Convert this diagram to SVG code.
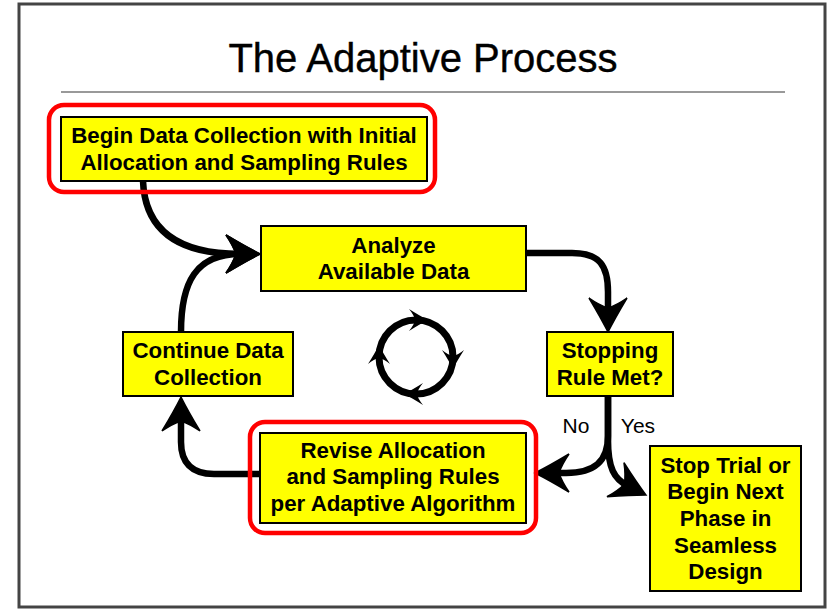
<svg xmlns="http://www.w3.org/2000/svg" xmlns:xlink="http://www.w3.org/1999/xlink" width="831" height="610" viewBox="0 0 831 610">
<defs>
<style>
.box{fill:#ffff00;stroke:#000;stroke-width:2}
.hl{fill:none;stroke:#ff0000;stroke-width:4.5}
.t{font-family:"Liberation Sans",Arial,sans-serif;font-weight:bold;font-size:22.3px;fill:#000;text-anchor:middle}
.lbl{font-family:"Liberation Sans",Arial,sans-serif;font-size:21px;fill:#000;text-anchor:middle}
.c{fill:none;stroke:#000;stroke-width:6.5;marker-end:url(#ah)}
</style>
<marker id="ah" markerUnits="userSpaceOnUse" markerWidth="80" markerHeight="80" viewBox="-40 -40 80 80" refX="0" refY="0" orient="auto" overflow="visible">
<path d="M20,0 Q6,-7 -14,-19 Q-7,-9 -4,0 Q-7,9 -14,19 Q6,7 20,0 Z" fill="#000" stroke="#000" stroke-width="1.5" stroke-linejoin="miter"/>
</marker>
<path id="sh" d="M10,0 Q2,-4 -9,-11 Q-4,-5 -3,0 Q-4,5 -9,11 Q2,4 10,0 Z" fill="#000"/>
</defs>
<rect x="0" y="0" width="831" height="610" fill="#fff"/>
<rect x="19" y="4" width="806" height="603" fill="#fff" stroke="#444" stroke-width="3"/>
<text x="423" y="72" font-family="'Liberation Sans',Arial,sans-serif" font-size="40" text-anchor="middle" fill="#000" stroke="#000" stroke-width="0.4">The Adaptive Process</text>
<line x1="61" y1="92" x2="785" y2="92" stroke="#999" stroke-width="2"/>

<g id="connectors">
<path class="c" d="M143,181 C145,232 180,254 240,254"/>
<path class="c" d="M181,332 C181,282 196,254 240,254"/>
<path class="c" d="M526,253 L572,253 C600,253 608,266 608,292 L608,312"/>
<path class="c" d="M608,396 L608,436 C608,462 594,473 566,473 L555,473"/>
<path class="c" d="M608,396 L608,440 C608,468 614,479 628,486"/>
<path class="c" d="M260,474 L214,474 C191,474 181,462 181,442 L181,417"/>
</g>

<g id="cycle">
<circle cx="416" cy="357" r="37" fill="none" stroke="#000" stroke-width="7"/>
<use xlink:href="#sh" transform="translate(418,320)"/>
<use xlink:href="#sh" transform="translate(453,359) rotate(90)"/>
<use xlink:href="#sh" transform="translate(414,394) rotate(180)"/>
<use xlink:href="#sh" transform="translate(379,355) rotate(-90)"/>
</g>

<g id="begin">
<rect class="hl" x="49" y="105" width="386" height="87" rx="15"/>
<rect class="box" x="61" y="117" width="366" height="64"/>
<text class="t" x="244" y="143">Begin Data Collection with Initial</text>
<text class="t" x="244" y="170">Allocation and Sampling Rules</text>
</g>

<g id="analyze">
<rect class="box" x="261" y="226" width="265" height="65"/>
<text class="t" x="393.5" y="253">Analyze</text>
<text class="t" x="393.5" y="279">Available Data</text>
</g>

<g id="stopping">
<rect class="box" x="547" y="332" width="126" height="64"/>
<text class="t" x="610" y="358">Stopping</text>
<text class="t" x="610" y="385">Rule Met?</text>
</g>

<g id="continue">
<rect class="box" x="123" y="332" width="170" height="64"/>
<text class="t" x="208" y="358">Continue Data</text>
<text class="t" x="208" y="385">Collection</text>
</g>

<g id="revise">
<rect class="hl" x="250" y="422" width="286" height="111" rx="15"/>
<rect class="box" x="260" y="433" width="266" height="90"/>
<text class="t" x="393" y="458">Revise Allocation</text>
<text class="t" x="393" y="484">and Sampling Rules</text>
<text class="t" x="393" y="511">per Adaptive Algorithm</text>
</g>

<g id="stoptrial">
<rect class="box" x="650" y="446" width="151" height="145"/>
<text class="t" x="725.5" y="473">Stop Trial or</text>
<text class="t" x="725.5" y="499">Begin Next</text>
<text class="t" x="725.5" y="526">Phase in</text>
<text class="t" x="725.5" y="553">Seamless</text>
<text class="t" x="725.5" y="579">Design</text>
</g>

<g id="labels">
<text class="lbl" x="576" y="433">No</text>
<text class="lbl" x="638" y="433">Yes</text>
</g>
</svg>
